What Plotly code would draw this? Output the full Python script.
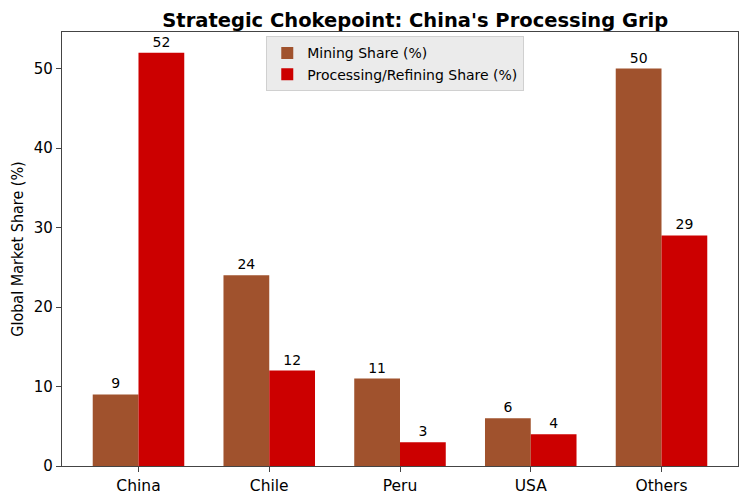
import plotly.graph_objects as go

categories = ["China", "Chile", "Peru", "USA", "Others"]
mining_share = [9, 24, 11, 6, 50]
processing_share = [52, 12, 3, 4, 29]
y_ticks = [0, 10, 20, 30, 40, 50]

FONT = "DejaVu Sans"
AXIS_COLOR = "#444444"

fig = go.Figure()
fig.add_trace(go.Bar(
    name="Mining Share (%)", x=categories, y=mining_share,
    marker=dict(color="#A0522D", line=dict(width=0)),
    text=[str(v) for v in mining_share], textposition="outside",
    textfont=dict(family=FONT, size=14, color="black"), cliponaxis=False,
))
fig.add_trace(go.Bar(
    name="Processing/Refining Share (%)", x=categories, y=processing_share,
    marker=dict(color="#CC0000", line=dict(width=0)),
    text=[str(v) for v in processing_share], textposition="outside",
    textfont=dict(family=FONT, size=14, color="black"), cliponaxis=False,
))

fig.update_layout(
    width=750, height=500,
    margin=dict(l=54, r=20, t=24, b=42, autoexpand=False),
    paper_bgcolor="white", plot_bgcolor="white",
    barmode="group", bargap=0.3, bargroupgap=0,
    title=dict(text="<b>Strategic Chokepoint: China's Processing Grip</b>",
               x=0.543, xanchor="center", y=0.975, yanchor="middle",
               font=dict(family=FONT, size=19.5, color="black")),
    font=dict(family=FONT, size=14, color="black"),
    legend=dict(x=0.493, xanchor="center", y=0.99, yanchor="top",
                bgcolor="#ebebeb", bordercolor="#d0d0d0", borderwidth=1,
                font=dict(family=FONT, size=14, color="black"),
                itemwidth=30, tracegroupgap=0),
    showlegend=True,
)
fig.update_xaxes(
    range=[-0.585, 4.585], showgrid=False, showline=True, linecolor=AXIS_COLOR,
    linewidth=1.2, mirror=True, ticks="outside", ticklen=5, tickcolor=AXIS_COLOR,
    tickfont=dict(family=FONT, size=15.5, color="black"), automargin=False,
)
fig.update_yaxes(
    range=[0, 54.6], tickvals=y_ticks, showgrid=False, zeroline=False,
    showline=True, linecolor=AXIS_COLOR, linewidth=1.2, mirror=True,
    ticks="outside", ticklen=5, tickcolor=AXIS_COLOR,
    tickfont=dict(family=FONT, size=15, color="black"), automargin=False,
    title=dict(text="Global Market Share (%)", standoff=6,
               font=dict(family="DejaVu Sans Condensed, " + FONT, size=16, color="black")),
)

fig.write_html("out.html")
